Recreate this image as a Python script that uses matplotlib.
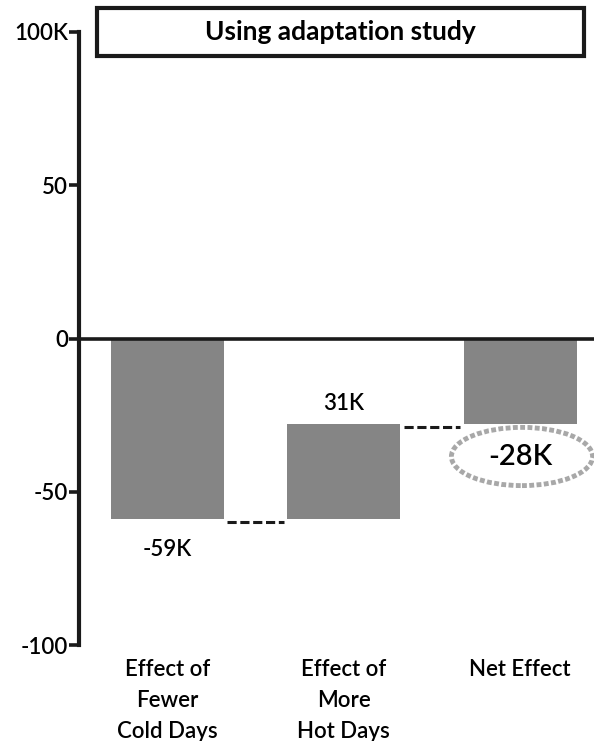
import matplotlib
matplotlib.use("Agg")
import matplotlib.pyplot as plt
from matplotlib.patches import Ellipse, Rectangle

plt.rcParams['font.family'] = ['Lato', 'DejaVu Sans']
plt.rcParams['font.weight'] = 'semibold'

categories = ["Effect of\nFewer\nCold Days", "Effect of\nMore\nHot Days", "Net Effect"]
cold_effect = -59
hot_effect = 31
net_effect = cold_effect + hot_effect
bar_labels = ["-59K", "31K", "-28K"]
ytick_values = [-100, -50, 0, 50, 100]
ytick_labels = ["-100", "-50", "0", "50", "100K"]
title = "Using adaptation study"

fig = plt.figure(figsize=(5.94, 7.41), dpi=100)
ax = fig.add_axes([79 / 594, 96 / 741, 1 - 79 / 594, (645 - 32) / 741])
ax.set_xlim(-0.5, 2.418)
ax.set_ylim(-100, 100)

x = [0, 1, 2]
width = 0.64
fill = '#858585'
dark = '#1a1a1a'

bottoms = [0, cold_effect, 0]
heights = [cold_effect, hot_effect, net_effect]
ax.bar(x, heights, bottom=bottoms, width=width, color=fill,
       edgecolor='none', zorder=2)

# dashed connectors between the waterfall steps
gap = 0.02
ax.plot([x[0] + width / 2 + gap, x[1] - width / 2 - gap],
        [cold_effect - 0.8, cold_effect - 0.8], color=dark, lw=2.2,
        ls=(0, (3, 1.2)), zorder=3)
ax.plot([x[1] + width / 2 + gap, x[2] - width / 2 - gap],
        [net_effect - 0.8, net_effect - 0.8], color=dark, lw=2.2,
        ls=(0, (3, 1.2)), zorder=3)

ax.axhline(0, color=dark, lw=2.6, zorder=4)

ax.text(x[0], cold_effect - 6.5, bar_labels[0], ha='center', va='top', fontsize=16)
ax.text(x[1], cold_effect + hot_effect + 3.5, bar_labels[1], ha='center',
        va='bottom', fontsize=16)
ell_y = net_effect - 10.5
ax.add_patch(Ellipse((2.01, ell_y), 0.80, 19, facecolor='white',
                     edgecolor='#a8a8a8', lw=3.5, ls=(0, (1, 0.5)), zorder=3))
ax.text(2.0, ell_y, bar_labels[2], ha='center', va='center', fontsize=21, zorder=5)

ax.set_yticks(ytick_values)
ax.set_yticklabels(ytick_labels, fontsize=16)
ax.tick_params(axis='y', direction='out', length=7, width=2.6, pad=1, color=dark)
ax.set_xticks(x)
ax.set_xticklabels(categories, fontsize=16, linespacing=1.6, va='top')
ax.tick_params(axis='x', length=0, pad=10)

for side in ['top', 'right', 'bottom']:
    ax.spines[side].set_visible(False)
ax.spines['left'].set_linewidth(3)
ax.spines['left'].set_color(dark)

# title panel
fig.patches.append(Rectangle((97 / 594, 1 - 56 / 741), (584 - 97) / 594, 48 / 741,
                             transform=fig.transFigure, facecolor='white',
                             edgecolor=dark, lw=3, zorder=5))
fig.text((97 + 584) / 2 / 594, 1 - 32 / 741, title, ha='center', va='center',
         fontsize=19, fontweight='bold', zorder=6)

fig.savefig("out.png", dpi=100)
